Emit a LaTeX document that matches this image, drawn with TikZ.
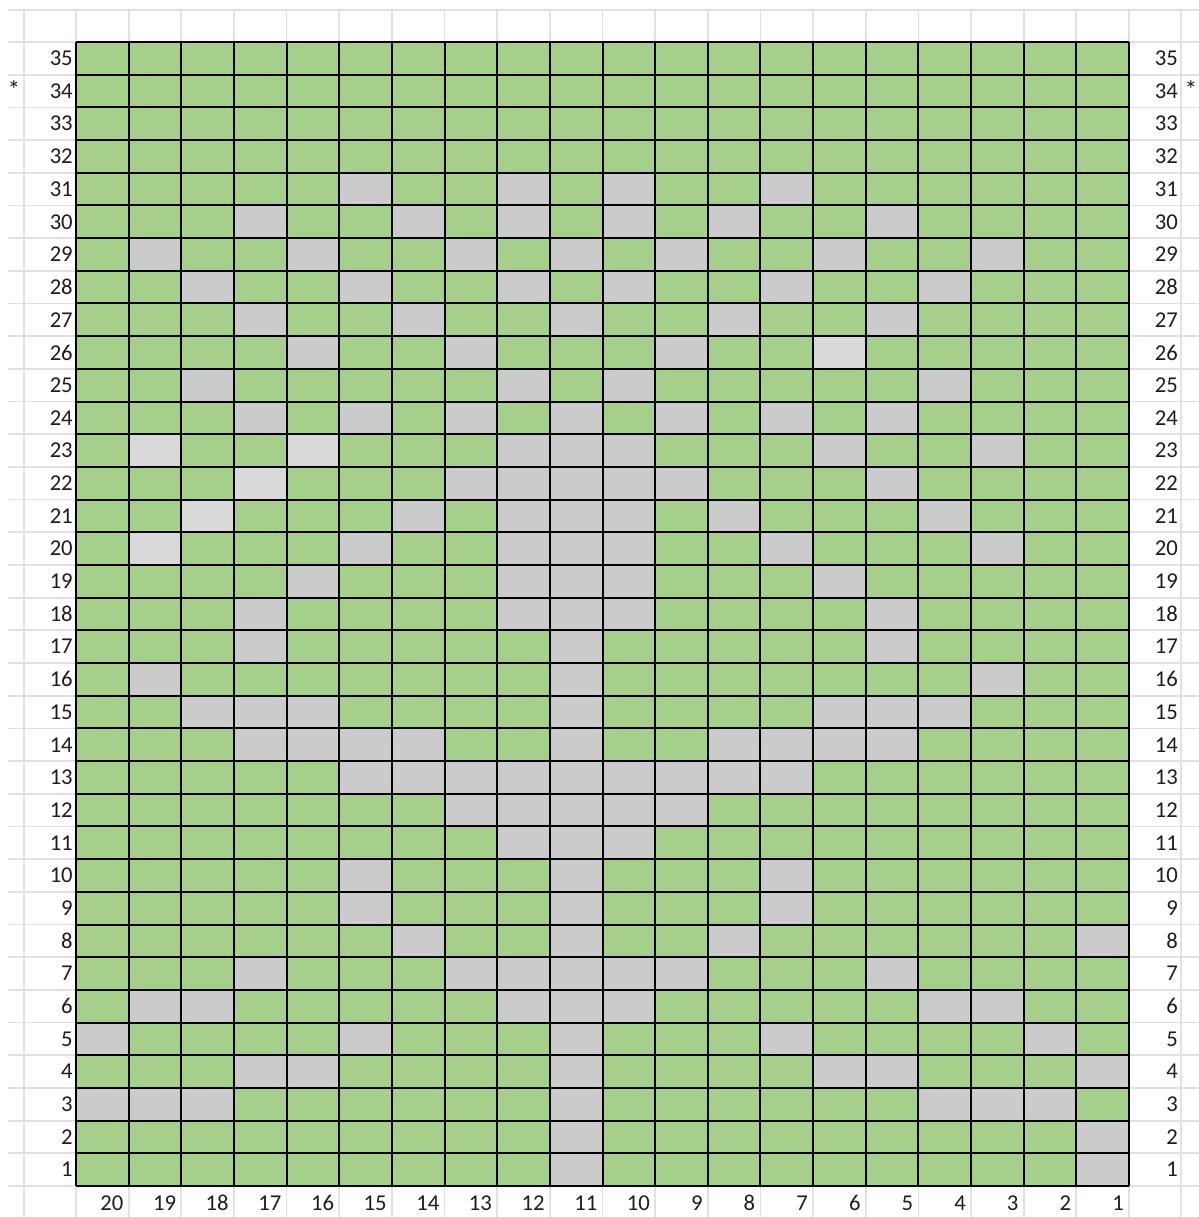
\documentclass[tikz,border=0pt]{standalone}
\usepackage{fontspec}
\setmainfont{Carlito}
\definecolor{cellgreen}{HTML}{A7CF8C}
\definecolor{cellgray}{HTML}{CBCBCB}
\definecolor{celllight}{HTML}{D9D9D9}
\definecolor{sheetline}{HTML}{E1E1E1}
\definecolor{labeltext}{HTML}{1E1E1E}
\tikzset{
  sheet/.style={draw=sheetline, line width=1.3},
  gridline/.style={draw=black, line width=1.5},
  lab/.style={anchor=east, inner sep=0pt, text=labeltext, font=\fontsize{17}{20}\selectfont},
  star/.style={anchor=center, inner sep=0pt, text=labeltext, font=\fontsize{19}{22}\selectfont}
}
\newcommand{\CW}{52.65}
\newcommand{\RH}{32.686}
\begin{document}
\begin{tikzpicture}[x=0.75pt,y=-0.75pt]
\useasboundingbox (0,0) rectangle (1199,1217);
\fill[white] (0,0) rectangle (1199,1217);
% spreadsheet background lines
\foreach \k in {0,...,20} {\draw[sheet] ({76+\k*\CW},10) -- ({76+\k*\CW},1217);}
\draw[sheet] (24,10) -- (24,1217);
\draw[sheet] (1181,10) -- (1181,1217);
\draw[sheet] (8,10) -- (1199,10);
\foreach \j in {0,...,35} {\draw[sheet] (8,{42+\j*\RH}) -- (1199,{42+\j*\RH});}
% green field
\fill[cellgreen] (76,42) rectangle (1129,1186);
% gray cells: row / list of column labels
\foreach \r/\cs in {
 31/{15,12,10,7},
 30/{17,14,12,10,8,5},
 29/{19,16,13,11,9,6,3},
 28/{18,15,12,10,7,4},
 27/{17,14,11,8,5},
 26/{16,13,9},
 25/{18,12,10,4},
 24/{17,15,13,11,9,7,5},
 23/{12,11,10,6,3},
 22/{13,12,11,10,9,5},
 21/{14,12,11,10,8,4},
 20/{15,12,11,10,7,3},
 19/{16,12,11,10,6},
 18/{17,12,11,10,5},
 17/{17,11,5},
 16/{19,11,3},
 15/{18,17,16,11,6,5,4},
 14/{17,16,15,14,11,8,7,6,5},
 13/{15,14,13,12,11,10,9,8,7},
 12/{13,12,11,10,9},
 11/{12,11,10},
 10/{15,11,7},
 9/{15,11,7},
 8/{14,11,8,1},
 7/{17,13,12,11,10,9,5},
 6/{19,18,12,11,10,4,3},
 5/{20,15,11,7,2},
 4/{17,16,11,6,5,1},
 3/{20,19,18,11,4,3,2},
 2/{11,1},
 1/{11,1}} {
  \foreach \c in \cs {
    \fill[cellgray] ({76+(20-\c)*\CW},{42+(35-\r)*\RH}) rectangle ++(\CW,\RH);
  }
}
% lighter gray cells
\foreach \r/\c in {26/6,23/19,23/16,22/17,21/18,20/19} {
  \fill[celllight] ({76+(20-\c)*\CW},{42+(35-\r)*\RH}) rectangle ++(\CW,\RH);
}
% black grid
\foreach \k in {0,...,20} {\draw[gridline] ({76+\k*\CW},42) -- ({76+\k*\CW},1186);}
\foreach \j in {0,...,35} {\draw[gridline] (76,{42+\j*\RH}) -- (1129,{42+\j*\RH});}
% row labels
\foreach \r in {1,...,35} {
  \node[lab] (L\r) at (73,{42+(35-\r+0.5)*\RH}) {\r};
  \node[lab] (R\r) at (1178,{42+(35-\r+0.5)*\RH}) {\r};
}
% column labels
\foreach \c in {1,...,20} {
  \node[lab] (C\c) at ({76+(21-\c)*\CW-5},1203) {\c};
}
\node[star] (sl) at (14,90) {*};
\node[star] (sr) at (1191,90) {*};
\end{tikzpicture}
\end{document}
